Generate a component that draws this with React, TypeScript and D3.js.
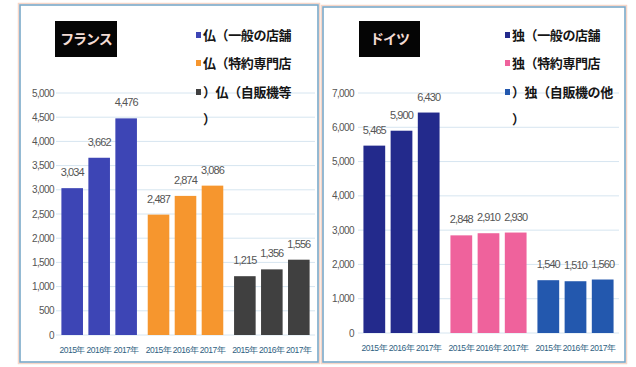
import React from "react";
import * as d3 from "d3";

const years = ["2015年", "2016年", "2017年"];

const frSeries = ["仏（一般の店舗", "仏（特約専門店", "仏（自販機等"];
const frGeneral = [3034, 3662, 4476];
const frSpecial = [2487, 2874, 3086];
const frVending = [1215, 1356, 1556];
const frTicks = [0, 500, 1000, 1500, 2000, 2500, 3000, 3500, 4000, 4500, 5000];
const frLegendLines = ["仏（一般の店舗", "仏（特約専門店", "）仏（自販機等", "）"];

const deSeries = ["独（一般の店舗", "独（特約専門店", "独（自販機の他"];
const deGeneral = [5465, 5900, 6430];
const deSpecial = [2848, 2910, 2930];
const deVending = [1540, 1510, 1560];
const deTicks = [0, 1000, 2000, 3000, 4000, 5000, 6000, 7000];
const deLegendLines = ["独（一般の店舗", "独（特約専門店", "）独（自販機の他", "）"];

const frColors = ["#3d45b5", "#f6962e", "#404040"];
const deColors = ["#232a8c", "#ef629c", "#2358ae"];

const fmt = d3.format(",");

type PanelProps = {
  box: [number, number, number, number];
  title: string;
  titleBox: [number, number, number, number];
  series: string[];
  values: number[][];
  colors: string[];
  ticks: number[];
  yDomainMax: number;
  yRange: [number, number];
  xRange: [number, number];
  tickX: number;
  legendLines: string[];
  legendX: number;
};

function Panel(p: PanelProps) {
  const y = d3.scaleLinear().domain([0, p.yDomainMax]).range(p.yRange);
  const gx = d3.scaleBand<string>().domain(p.series).range(p.xRange).padding(0);
  const ix = d3
    .scaleBand<string>()
    .domain(years)
    .range([0, gx.bandwidth()])
    .paddingInner(0.2)
    .paddingOuter(0.2);
  const [bx, by, bw, bh] = p.box;
  const [tx, ty, tw, th] = p.titleBox;
  const legendRows = [35, 63, 92, 119];
  return (
    <g>
      <rect x={bx - 1.5} y={by - 1.5} width={bw + 3} height={bh + 3} fill="none" stroke="#f6d6c8" strokeWidth={1.5} />
      <rect x={bx} y={by} width={bw} height={bh} fill="#ffffff" stroke="#7aa9c9" strokeWidth={1.6} />
      {p.ticks.map((t) => (
        <g key={t}>
          <line x1={p.xRange[0]} x2={p.xRange[1]} y1={y(t)} y2={y(t)} stroke="#d6e5f0" strokeWidth={1} />
          <text x={p.tickX} y={y(t)} dy="0.35em" textAnchor="end" fontSize={10} fill="#555" letterSpacing={-0.6} fontFamily="Liberation Sans, Arial, sans-serif">
            {fmt(t)}
          </text>
        </g>
      ))}
      {p.series.map((s, si) => (
        <g key={s} transform={`translate(${gx(s)},0)`}>
          {years.map((yr, yi) => {
            const v = p.values[si][yi];
            const x0 = ix(yr) as number;
            return (
              <g key={yr}>
                <rect x={x0} y={y(v)} width={ix.bandwidth()} height={y(0) - y(v)} fill={p.colors[si]} />
                <text x={x0 + ix.bandwidth() / 2} y={y(v) - 12} textAnchor="middle" fontSize={11} fill="#555" letterSpacing={-0.9} fontFamily="Liberation Sans, Arial, sans-serif">
                  {fmt(v)}
                </text>
                <text x={x0 + ix.bandwidth() / 2} y={p.yRange[0] + 18} textAnchor="middle" fontSize={8.5} fill="#2f5f82" letterSpacing={-0.5} fontFamily="Liberation Sans, Arial, sans-serif">
                  {yr}
                </text>
              </g>
            );
          })}
        </g>
      ))}
      <rect x={tx} y={ty} width={tw} height={th} fill="#050505" />
      <text x={tx + tw / 2} y={ty + th / 2} dy="0.36em" textAnchor="middle" fontSize={14} fontWeight="bold" fill="#f3dcd4" letterSpacing={-1} fontFamily="Noto Sans CJK JP, sans-serif">
        {p.title}
      </text>
      {p.legendLines.map((l, li) => (
        <g key={li}>
          {li < 3 && (
            <rect x={p.legendX - 7} y={legendRows[li] - 3} width={5} height={6} fill={p.colors[li]} />
          )}
          <text x={p.legendX} y={legendRows[li]} dy="0.36em" fontSize={13} fontWeight="bold" fill="#151515" letterSpacing={-0.4} fontFamily="Noto Sans CJK JP, sans-serif">
            {l}
          </text>
        </g>
      ))}
    </g>
  );
}

export default function App() {
  return (
    <svg width={636} height={367} style={{ position: "absolute", left: 0, top: 0, background: "#fff" }}>
      <Panel
        box={[20, 5, 298, 357]}
        title="フランス"
        titleBox={[55, 21, 62, 36]}
        series={frSeries}
        values={[frGeneral, frSpecial, frVending]}
        colors={frColors}
        ticks={frTicks}
        yDomainMax={5000}
        yRange={[335, 93]}
        xRange={[56, 315]}
        tickX={54}
        legendLines={frLegendLines}
        legendX={203}
      />
      <Panel
        box={[323, 7, 302, 355]}
        title="ドイツ"
        titleBox={[359, 21, 61, 36]}
        series={deSeries}
        values={[deGeneral, deSpecial, deVending]}
        colors={deColors}
        ticks={deTicks}
        yDomainMax={7000}
        yRange={[333, 93]}
        xRange={[358, 619]}
        tickX={354}
        legendLines={deLegendLines}
        legendX={512}
      />
    </svg>
  );
}
